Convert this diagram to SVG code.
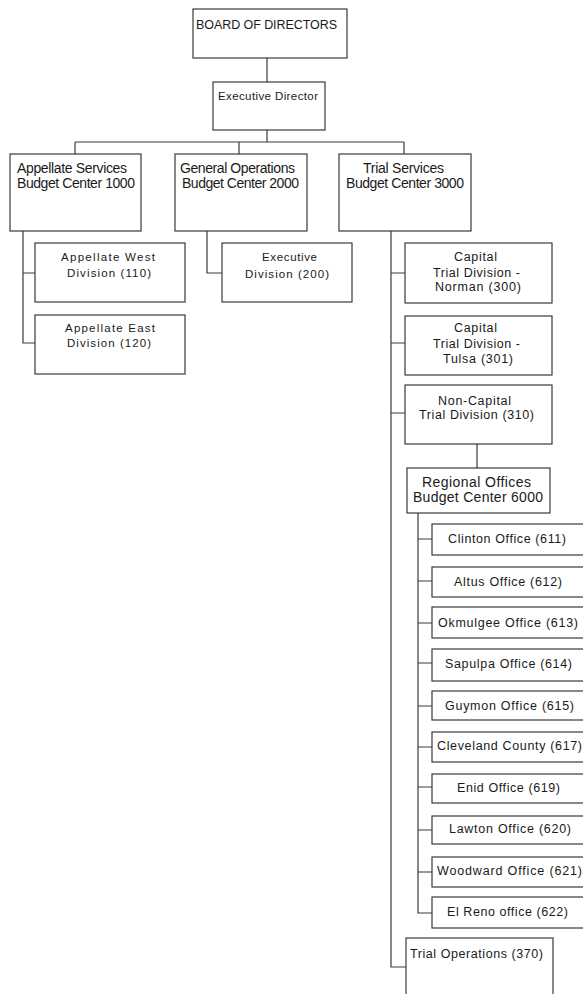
<svg xmlns="http://www.w3.org/2000/svg" width="583" height="994" viewBox="0 0 583 994">
<style>
rect{fill:#fff;stroke:#3a3a3a;stroke-width:1.2}
#connectors path{fill:none;stroke:#3a3a3a;stroke-width:1.2}
text{font-family:"Liberation Sans",Arial,sans-serif;fill:#1a1a1a}
.s{font-size:11.5px}
.m{font-size:12.5px}
.b{font-size:14px}
</style>
<rect x="0" y="0" width="583" height="994" style="fill:#fff;stroke:none"/>
<g id="connectors">
<path d="M267,58V82M267,130V142M75,142H404M75,142V154M239,142V154M404,142V154"/>
<path d="M23,231V343H35M23,273H35"/>
<path d="M207,231V273H222"/>
<path d="M391,231V967H406M391,273H405M391,343H405M391,413H405"/>
<path d="M477,444V468"/>
<path d="M418,513V913H432M418,539H432M418,581H432M418,623H432M418,663H432M418,706H432M418,747H432M418,787H432M418,830H432M418,872H432"/>
</g>
<g id="board"><rect x="193" y="9" width="154" height="49"/><text class="m" x="196" y="29" textLength="141" lengthAdjust="spacing">BOARD OF DIRECTORS</text></g>
<g id="exec"><rect x="213" y="82" width="112" height="48"/><text class="s" x="218" y="100" textLength="100" lengthAdjust="spacing">Executive Director</text></g>
<g id="appellate"><rect x="10" y="154" width="131" height="77"/>
<text class="b" x="17" y="173" textLength="110" lengthAdjust="spacing">Appellate Services</text>
<text class="b" x="17" y="188" textLength="118" lengthAdjust="spacing">Budget Center 1000</text></g>
<g id="genops"><rect x="175" y="154" width="132" height="77"/>
<text class="b" x="180" y="173" textLength="115" lengthAdjust="spacing">General Operations</text>
<text class="b" x="182" y="188" textLength="117" lengthAdjust="spacing">Budget Center 2000</text></g>
<g id="trial"><rect x="339" y="154" width="132" height="77"/>
<text class="b" x="363" y="173" textLength="81" lengthAdjust="spacing">Trial Services</text>
<text class="b" x="346" y="188" textLength="118" lengthAdjust="spacing">Budget Center 3000</text></g>
<g id="appWest"><rect x="35" y="243" width="150" height="59"/>
<text class="s" x="61" y="261" textLength="94" lengthAdjust="spacing">Appellate West</text>
<text class="s" x="67" y="277" textLength="84" lengthAdjust="spacing">Division (110)</text></g>
<g id="appEast"><rect x="35" y="315" width="150" height="59"/>
<text class="s" x="65" y="332" textLength="90" lengthAdjust="spacing">Appellate East</text>
<text class="s" x="67" y="347" textLength="84" lengthAdjust="spacing">Division (120)</text></g>
<g id="execDiv"><rect x="222" y="243" width="130" height="59"/>
<text class="s" x="262" y="261" textLength="55" lengthAdjust="spacing">Executive</text>
<text class="s" x="245" y="278" textLength="84" lengthAdjust="spacing">Division (200)</text></g>
<g id="capNorman"><rect x="405" y="243" width="147" height="60"/>
<text class="m" x="454" y="261" textLength="43" lengthAdjust="spacing">Capital</text>
<text class="m" x="433" y="277" textLength="87" lengthAdjust="spacing">Trial Division -</text>
<text class="m" x="435" y="291" textLength="86" lengthAdjust="spacing">Norman (300)</text></g>
<g id="capTulsa"><rect x="405" y="316" width="147" height="59"/>
<text class="m" x="454" y="332" textLength="43" lengthAdjust="spacing">Capital</text>
<text class="m" x="433" y="348" textLength="87" lengthAdjust="spacing">Trial Division -</text>
<text class="m" x="443" y="363" textLength="70" lengthAdjust="spacing">Tulsa (301)</text></g>
<g id="nonCap"><rect x="405" y="385" width="147" height="59"/>
<text class="m" x="438" y="405" textLength="73" lengthAdjust="spacing">Non-Capital</text>
<text class="m" x="419" y="419" textLength="115" lengthAdjust="spacing">Trial Division (310)</text></g>
<g id="regional"><rect x="407" y="468" width="143" height="45"/>
<text class="b" x="422" y="487" textLength="109" lengthAdjust="spacing">Regional Offices</text>
<text class="b" x="413" y="502" textLength="130" lengthAdjust="spacing">Budget Center 6000</text></g>
<g id="clinton"><rect x="432" y="524" width="170" height="31"/><text class="m" x="448" y="543" textLength="118" lengthAdjust="spacing">Clinton Office (611)</text></g>
<g id="altus"><rect x="432" y="567" width="170" height="30"/><text class="m" x="454" y="586" textLength="108" lengthAdjust="spacing">Altus Office (612)</text></g>
<g id="okmulgee"><rect x="432" y="607" width="170" height="31"/><text class="m" x="438" y="627" textLength="140" lengthAdjust="spacing">Okmulgee Office (613)</text></g>
<g id="sapulpa"><rect x="432" y="649" width="170" height="32"/><text class="m" x="445" y="668" textLength="127" lengthAdjust="spacing">Sapulpa Office (614)</text></g>
<g id="guymon"><rect x="432" y="691" width="170" height="29"/><text class="m" x="445" y="710" textLength="129" lengthAdjust="spacing">Guymon Office (615)</text></g>
<g id="cleveland"><rect x="432" y="732" width="170" height="30"/><text class="m" x="437" y="750" textLength="145" lengthAdjust="spacing">Cleveland County (617)</text></g>
<g id="enid"><rect x="432" y="774" width="170" height="29"/><text class="m" x="457" y="792" textLength="103" lengthAdjust="spacing">Enid Office (619)</text></g>
<g id="lawton"><rect x="432" y="816" width="170" height="28"/><text class="m" x="449" y="833" textLength="122" lengthAdjust="spacing">Lawton Office (620)</text></g>
<g id="woodward"><rect x="432" y="857" width="170" height="30"/><text class="m" x="437" y="875" textLength="145" lengthAdjust="spacing">Woodward Office (621)</text></g>
<g id="elreno"><rect x="432" y="897" width="170" height="31"/><text class="m" x="447" y="916" textLength="121" lengthAdjust="spacing">El Reno office (622)</text></g>
<g id="trialOps"><rect x="406" y="938" width="147" height="70"/><text class="m" x="410" y="958" textLength="133" lengthAdjust="spacing">Trial Operations (370)</text></g>
</svg>
